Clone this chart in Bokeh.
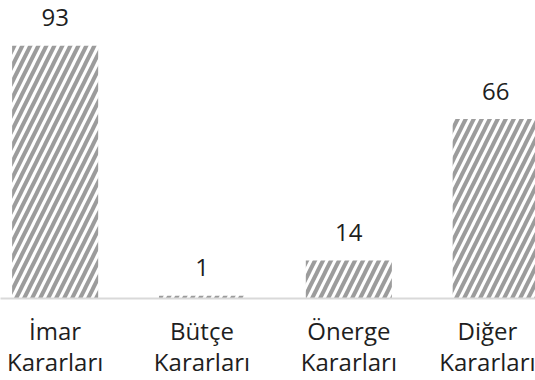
from bokeh.plotting import figure
from bokeh.models import ColumnDataSource, Range1d, FixedTicker
from bokeh.core.properties import value
from bokeh.embed import file_html
from bokeh.resources import INLINE

categories = ["İmar\nKararları", "Bütçe\nKararları", "Önerge\nKararları", "Diğer\nKararları"]
counts = [93, 1, 14, 66]
labels = [str(v) for v in counts]

xs = list(range(len(categories)))
src = ColumnDataSource(dict(x=xs, top=counts, label=labels))

p = figure(frame_width=535, frame_height=298, output_backend="svg", toolbar_location=None,
           x_range=Range1d(-0.372, 3.271), y_range=Range1d(0, 109.6), min_border=0,
           background_fill_color="white", border_fill_color="white")
p.outline_line_color = None
p.grid.visible = False
p.yaxis.visible = False

p.vbar(x="x", top="top", bottom=0, width=0.586, source=src,
       fill_color="white", line_color=None,
       hatch_pattern="/", hatch_color="#9c9c9c", hatch_scale=16, hatch_weight=4)

p.text(x="x", y="top", text="label", source=src, text_align="center",
       text_baseline="alphabetic", y_offset=-28,
       text_font=value("Open Sans"), text_font_size="24px", text_color="#1e1e1e")

ax = p.xaxis[0]
ax.ticker = FixedTicker(ticks=xs)
ax.major_label_overrides = {i: c for i, c in zip(xs, categories)}
ax.major_tick_line_color = None
ax.minor_tick_line_color = None
ax.axis_line_color = "#d9d9d9"
ax.axis_line_width = 2
ax.major_label_standoff = 9
ax.major_label_text_font = "Open Sans"
ax.major_label_text_font_size = "24px"
ax.major_label_text_line_height = 0.95
ax.major_label_text_color = "#1e1e1e"
ax.major_label_text_align = "center"

open("out.html", "w").write(file_html(p, INLINE))
